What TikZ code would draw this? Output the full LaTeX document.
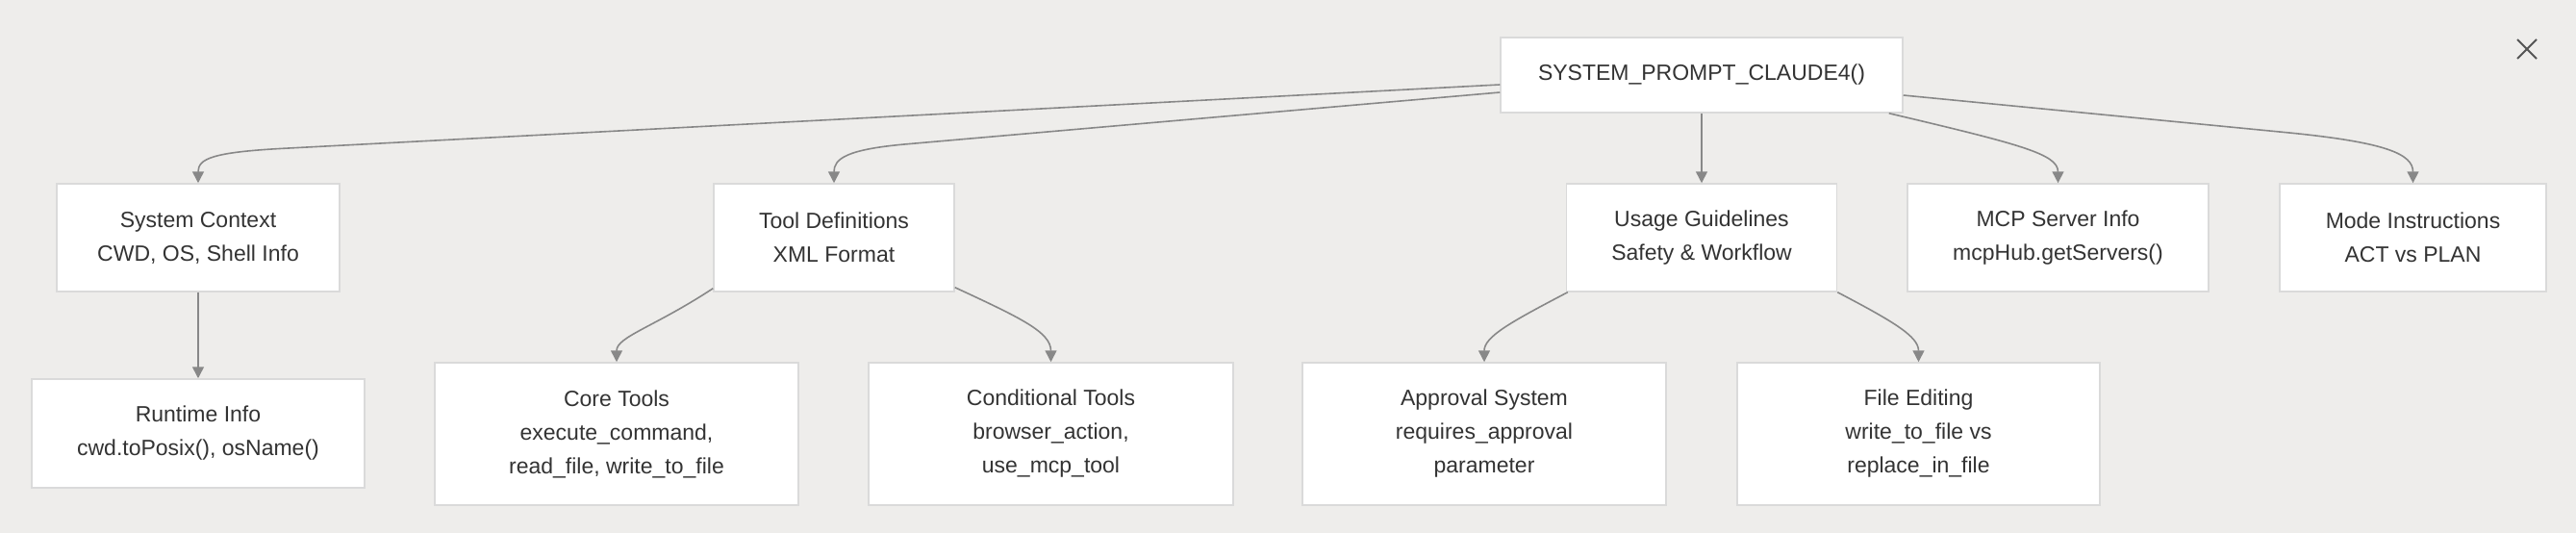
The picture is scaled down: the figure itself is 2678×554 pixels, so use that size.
\documentclass[tikz,border=0pt]{standalone}
\usepackage{fontspec}
\setmainfont{Liberation Sans}
\usetikzlibrary{arrows.meta}
\definecolor{bg}{HTML}{EEEDEB}
\definecolor{boxline}{HTML}{DADADA}
\definecolor{edge}{HTML}{888888}
\definecolor{txt}{HTML}{333333}
\definecolor{xcol}{HTML}{555555}
\tikzset{
  box/.style={draw=boxline, line width=1.5pt, fill=white, inner sep=0pt, align=center,
    text=txt, font=\fontsize{23}{35}\selectfont},
  conn/.style={draw=edge, line width=1.6pt, -{Triangle[length=12pt,width=12pt]}},
  closemark/.style={draw=xcol, line width=2pt}
}
\begin{document}
\begin{tikzpicture}[x=1pt,y=-1pt]
\fill[bg] (0,0) rectangle (2678,554);
\useasboundingbox (0,0) rectangle (2678,554);

% nodes
\node[box, minimum width=418pt, minimum height=78pt] (root) at (1769,78) {SYSTEM\_PROMPT\_CLAUDE4()};

\node[box, minimum width=294pt, minimum height=112pt] (ctx) at (206,247) {System Context\\CWD, OS, Shell Info};
\node[box, minimum width=250pt, minimum height=112pt] (tool) at (867,247) {Tool Definitions\\XML Format};
\node[box, minimum width=281pt, minimum height=112pt] (usage) at (1769,247) {Usage Guidelines\\Safety \& Workflow};
\node[box, minimum width=313pt, minimum height=112pt] (mcp) at (2139.5,247) {MCP Server Info\\mcpHub.getServers()};
\node[box, minimum width=277pt, minimum height=112pt] (mode) at (2508.5,247) {Mode Instructions\\ACT vs PLAN};

\node[box, minimum width=346pt, minimum height=113pt] (runtime) at (206,450.5) {Runtime Info\\cwd.toPosix(), osName()};
\node[box, minimum width=378pt, minimum height=148pt] (core) at (641,451) {Core Tools\\execute\_command,\\read\_file, write\_to\_file};
\node[box, minimum width=379pt, minimum height=148pt] (cond) at (1092.5,451) {Conditional Tools\\browser\_action,\\ use\_mcp\_tool};
\node[box, minimum width=378pt, minimum height=148pt] (approval) at (1543,451) {Approval System\\requires\_approval\\parameter};
\node[box, minimum width=377pt, minimum height=148pt] (fileedit) at (1994.5,451) {File Editing\\write\_to\_file vs\\replace\_in\_file};

% connector start points
\coordinate (r1) at ([yshift=-10pt]root.west);
\coordinate (r2) at ([yshift=-18pt]root.west);
\coordinate (r4) at ([xshift=-15pt]root.south east);
\coordinate (r5) at ([yshift=-21pt]root.east);
\coordinate (t1) at ([yshift=4pt]tool.south west);
\coordinate (t2) at ([yshift=5pt]tool.south east);
\coordinate (u1) at ([xshift=2pt]usage.south west);
\coordinate (u2) at (usage.south east);

% connectors
\draw[conn] (r1) -- (300,154) .. controls (220,158) and (206,165) .. (ctx.north);
\draw[conn] (r2) -- (940,150) .. controls (880,155.5) and (867,165) .. (tool.north);
\draw[conn] (root.south) -- (usage.north);
\draw[conn] (r4) .. controls (2100,150) and (2139.5,160) .. (mcp.north);
\draw[conn] (r5) -- (2380,138) .. controls (2480,148) and (2508.5,160) .. (mode.north);

\draw[conn] (ctx.south) -- (runtime.north);
\draw[conn] (t1) .. controls (680,340) and (641,350) .. (core.north);
\draw[conn] (t2) .. controls (1060,330) and (1092.5,345) .. (cond.north);
\draw[conn] (u1) .. controls (1570,335) and (1543,350) .. (approval.north);
\draw[conn] (u2) .. controls (1970,335) and (1994.5,350) .. (fileedit.north);

% close mark
\draw[closemark] (2617,41) -- (2637,61);
\draw[closemark] (2637,41) -- (2617,61);
\end{tikzpicture}
\end{document}
